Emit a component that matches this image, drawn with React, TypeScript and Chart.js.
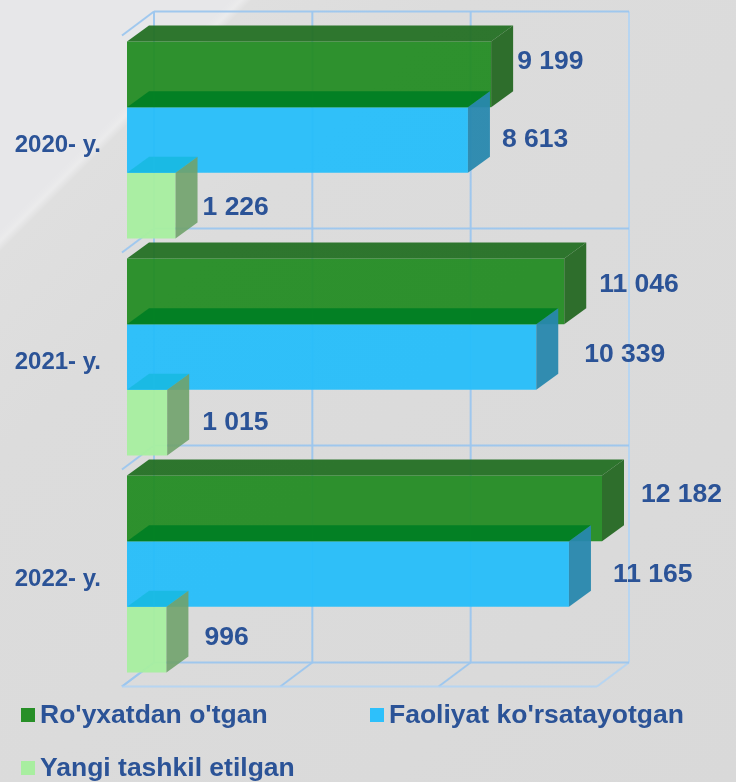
import React, { useEffect, useRef } from "react";
import { Chart, registerables } from "chart.js";

Chart.register(...registerables);

const categories = ["2020- y.", "2021- y.", "2022- y."];
const seriesNames = ["Ro'yxatdan o'tgan", "Faoliyat ko'rsatayotgan", "Yangi tashkil etilgan"];
const registered = [9199, 11046, 12182];
const active = [8613, 10339, 11165];
const newlyFounded = [1226, 1015, 996];
const axisMax = 12000;
const axisStep = 4000;

const frontColors = ["rgba(36,140,36,0.95)", "rgba(38,190,250,0.95)", "rgba(168,238,160,0.96)"];
const topColors = ["rgba(36,112,36,0.95)", "rgba(2,128,36,0.96)", "rgba(26,186,228,0.95)"];
const sideColors = ["rgba(40,106,38,0.97)", "rgba(40,136,174,0.95)", "rgba(112,162,108,0.9)"];
const legendColors = ["#278f27", "#2dc0fb", "#a8eea0"];

// [dx, dy] nudges of the value labels from the end of each bar, one row per series
const labelNudges = [
  [[26, -13], [35, -7], [39, -14]],
  [[34, 0], [48, -2], [44, 1]],
  [[27, 2], [35, 0], [38, -2]],
];
const legendSlots = [[21, 708], [370, 708], [21, 761]];

const TEXT = "#2b5397";
const FONT = '"Liberation Sans", Arial, sans-serif';
const BAR_DX = 22, BAR_DY = -16;
const FRONT_DX = -5, FRONT_DY = 4;
const BACK_DX = 27, BACK_DY = -20;

const fmt = (v: number) => String(v).replace(/\B(?=(\d{3})+(?!\d))/g, " ");

const poly = (ctx: any, pts: number[][], fill: string) => {
  ctx.beginPath();
  pts.forEach((p, i) => (i ? ctx.lineTo(p[0], p[1]) : ctx.moveTo(p[0], p[1])));
  ctx.closePath();
  ctx.fillStyle = fill;
  ctx.fill();
};

const seg = (ctx: any, x1: number, y1: number, x2: number, y2: number, color: string) => {
  ctx.beginPath();
  ctx.moveTo(x1, y1);
  ctx.lineTo(x2, y2);
  ctx.strokeStyle = color;
  ctx.lineWidth = 2;
  ctx.stroke();
};

const cube3d = {
  id: "cube3d",
  beforeDatasetsDraw(chart: any) {
    const { ctx, scales } = chart;
    const x = scales.x, y = scales.y;
    const main = "rgba(156,198,238,0.95)";
    const soft = "rgba(176,212,244,0.85)";
    const xs = x.ticks.map((t: any) => x.getPixelForValue(t.value));
    const half = (y.getPixelForValue(1) - y.getPixelForValue(0)) / 2;
    const ys = [y.getPixelForValue(0) - half, ...categories.map((_, i) => y.getPixelForValue(i) + half)];
    ctx.save();
    const bottom = ys[ys.length - 1];
    xs.forEach((px: number, i: number) => {
      const last = i === xs.length - 1;
      seg(ctx, px + BACK_DX, ys[0] + BACK_DY, px + BACK_DX, bottom + BACK_DY, last ? soft : main);
      seg(ctx, px + FRONT_DX, bottom + FRONT_DY, px + BACK_DX, bottom + BACK_DY, last ? soft : main);
    });
    ys.forEach((py: number) => {
      seg(ctx, xs[0] + BACK_DX, py + BACK_DY, xs[xs.length - 1] + BACK_DX, py + BACK_DY, main);
      seg(ctx, xs[0] + FRONT_DX, py + FRONT_DY, xs[0] + BACK_DX, py + BACK_DY, main);
    });
    seg(ctx, xs[0] + FRONT_DX, bottom + FRONT_DY, xs[xs.length - 1] + FRONT_DX, bottom + FRONT_DY, soft);
    ctx.restore();
  },
  afterDatasetsDraw(chart: any) {
    const { ctx, chartArea } = chart;
    ctx.save();
    chart.data.datasets.forEach((_: any, d: number) => {
      chart.getDatasetMeta(d).data.forEach((bar: any) => {
        const r = Math.min(bar.x, chartArea.right);
        const l = bar.base;
        const t = bar.y - bar.height / 2;
        const b = bar.y + bar.height / 2;
        poly(ctx, [[l, t], [l + BAR_DX, t + BAR_DY], [r + BAR_DX, t + BAR_DY], [r, t]], topColors[d]);
        poly(ctx, [[r, t], [r + BAR_DX, t + BAR_DY], [r + BAR_DX, b + BAR_DY], [r, b]], sideColors[d]);
      });
    });
    ctx.fillStyle = TEXT;
    ctx.font = `bold 26.5px ${FONT}`;
    ctx.textAlign = "left";
    ctx.textBaseline = "middle";
    chart.data.datasets.forEach((ds: any, d: number) => {
      chart.getDatasetMeta(d).data.forEach((bar: any, i: number) => {
        const r = Math.min(bar.x, chartArea.right);
        const n = labelNudges[d][i];
        ctx.fillText(fmt(ds.data[i]), r + n[0], bar.y + n[1]);
      });
    });
    ctx.font = `bold 26.5px ${FONT}`;
    seriesNames.forEach((name, i) => {
      const [sx, sy] = legendSlots[i];
      ctx.fillStyle = legendColors[i];
      ctx.fillRect(sx, sy, 14, 14);
      ctx.fillStyle = TEXT;
      ctx.fillText(name, sx + 19, sy + 8);
    });
    ctx.restore();
  },
};

export default function App() {
  const ref = useRef<HTMLCanvasElement>(null);
  useEffect(() => {
    const chart = new Chart(ref.current as HTMLCanvasElement, {
      type: "bar",
      plugins: [cube3d],
      data: {
        labels: categories,
        datasets: [registered, active, newlyFounded].map((data, i) => ({
          label: seriesNames[i],
          data,
          backgroundColor: frontColors[i],
          borderWidth: 0,
        })),
      },
      options: {
        indexAxis: "y",
        responsive: false,
        animation: false,
        layout: { padding: { left: 0, top: 31.5, right: 134, bottom: 99.5 } },
        datasets: { bar: { categoryPercentage: 0.907, barPercentage: 1 } },
        plugins: { legend: { display: false }, tooltip: { enabled: false } },
        scales: {
          x: {
            min: 0,
            max: axisMax,
            grid: { display: false },
            border: { display: false },
            afterFit: (s: any) => {
              s.height = 0;
              s.paddingTop = 0;
              s.paddingBottom = 0;
              s.paddingLeft = 0;
              s.paddingRight = 0;
            },
            ticks: { display: false, stepSize: axisStep },
          },
          y: {
            grid: { display: false, drawTicks: false },
            border: { display: false },
            afterFit: (s: any) => {
              s.width = 127;
              s.paddingTop = 0;
              s.paddingBottom = 0;
            },
            ticks: {
              color: TEXT,
              padding: 26,
              labelOffset: 5,
              font: { family: FONT, size: 24, weight: "bold" },
            },
          },
        },
      },
    } as any);
    return () => chart.destroy();
  }, []);
  return (
    <div
      style={{
        position: "fixed",
        left: 0,
        top: 0,
        width: 736,
        height: 782,
        background:
          "linear-gradient(135deg, #e7e7e9 0%, #e7e7e9 15.2%, #ebebec 15.9%, #dfdfdf 16.6%, #dcdcdc 30%, #d9d9d9 100%)",
      }}
    >
      <canvas ref={ref} width={736} height={782} style={{ display: "block" }} />
    </div>
  );
}
